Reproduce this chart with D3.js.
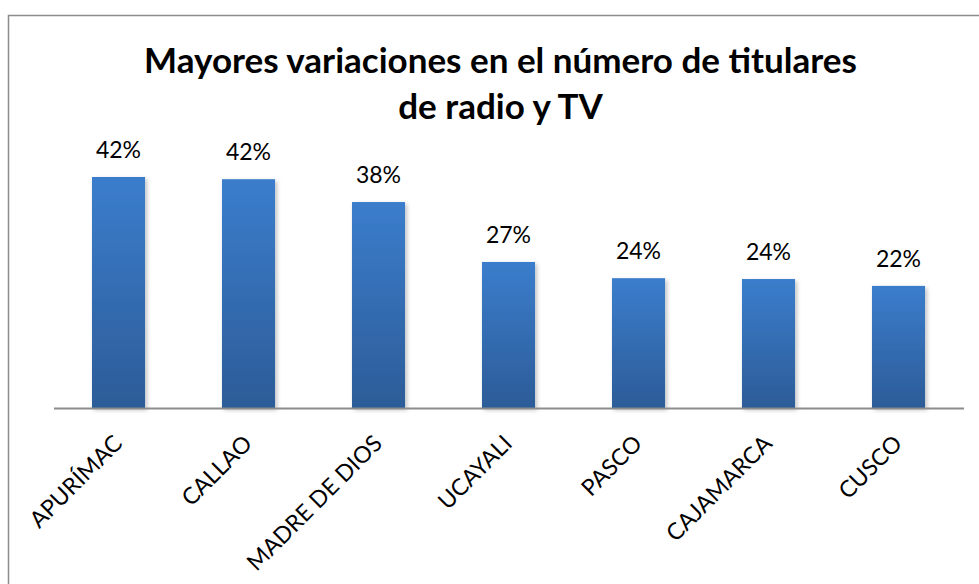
<!DOCTYPE html>
<html><head><meta charset="utf-8">
<script src="https://cdn.jsdelivr.net/npm/d3@7"></script>
<style>body{margin:0;background:#fff}svg{display:block}</style>
</head><body>
<svg id="chart" width="979" height="584"></svg>
<script>
const categories = ["APURÍMAC","CALLAO","MADRE DE DIOS","UCAYALI","PASCO","CAJAMARCA","CUSCO"];
const values = [0.42, 0.416, 0.3745, 0.2655, 0.236, 0.2345, 0.222];
const valueLabels = ["42%","42%","38%","27%","24%","24%","22%"];
const titleLines = ["Mayores variaciones en el número de titulares","de radio y TV"];

const svg = d3.select("#chart");
const font = "Lato, 'Open Sans', sans-serif";

const defs = svg.append("defs");
const grad = defs.append("linearGradient").attr("id","barGrad").attr("x1",0).attr("y1",0).attr("x2",0).attr("y2",1);
grad.append("stop").attr("offset","0%").attr("stop-color","#3b7dcc");
grad.append("stop").attr("offset","100%").attr("stop-color","#2c5c98");
const f = defs.append("filter").attr("id","shadow").attr("x","-20%").attr("y","-20%").attr("width","140%").attr("height","140%");
f.append("feDropShadow").attr("dx",2).attr("dy",2).attr("stdDeviation",2).attr("flood-color","#000").attr("flood-opacity",0.25);

// outer border
svg.append("rect").attr("x",8.5).attr("y",15.5).attr("width",1000).attr("height",1000)
  .attr("fill","#fff").attr("stroke","#8c8c8c").attr("stroke-width",1.5);

const x = d3.scaleBand().domain(categories).range([53.5, 963.5]).paddingInner(0.592).paddingOuter(0.296);
const y = d3.scaleLinear().domain([0, 0.45]).range([408, 160.5]);

const data = categories.map((c,i)=>({c, v: values[i], l: valueLabels[i]}));

svg.append("g").selectAll("rect").data(data).join("rect")
  .attr("x", d=>x(d.c)).attr("y", d=>y(d.v))
  .attr("width", x.bandwidth()).attr("height", d=>y(0)-y(d.v))
  .attr("fill","url(#barGrad)").attr("filter","url(#shadow)");

// baseline axis
const xAxis = d3.axisBottom(x).tickSize(0).tickFormat("");
const ax = svg.append("g").attr("transform",`translate(0,${y(0)})`).call(xAxis);
ax.select(".domain").attr("stroke","#8c8c8c").attr("stroke-width",2);

// category labels
svg.append("g").selectAll("text").data(data).join("text")
  .attr("transform", d=>`translate(${x(d.c)+x.bandwidth()/2+5},445) rotate(-45)`)
  .attr("text-anchor","end")
  .style("font-family",font).style("font-size","23px").attr("fill","#000")
  .text(d=>d.c);

// value labels
svg.append("g").selectAll("text").data(data).join("text")
  .attr("x", d=>x(d.c)+x.bandwidth()/2).attr("y", d=>y(d.v)-19)
  .attr("text-anchor","middle")
  .style("font-family",font).style("font-size","23px").attr("fill","#000")
  .text(d=>d.l);

// title
svg.append("g").selectAll("text").data(titleLines).join("text")
  .attr("x",500.5).attr("y",(d,i)=>73+i*46)
  .attr("text-anchor","middle")
  .style("font-family",font).style("font-size","35px").style("font-weight","bold").attr("fill","#000")
  .text(d=>d);
</script>
</body></html>
